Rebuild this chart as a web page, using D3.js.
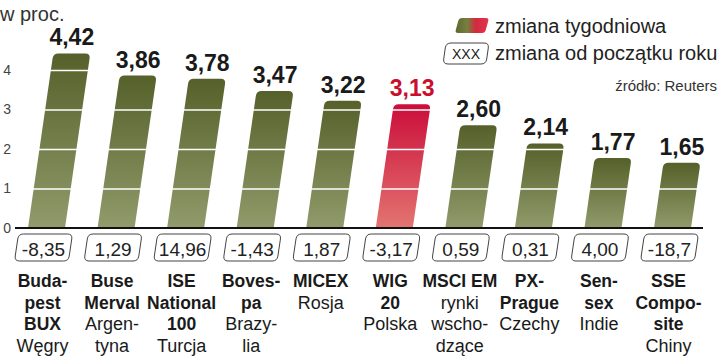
<!DOCTYPE html>
<html><head><meta charset="utf-8">
<script src="https://cdn.jsdelivr.net/npm/d3@7"></script>
<style>body{margin:0;background:#fff}svg{display:block;font-family:"Liberation Sans",Arial,sans-serif}</style>
</head><body><svg id="c" width="720" height="357"></svg>
<script>
const categories = ["Budapest BUX","Buse Merval","ISE National 100","Bovespa","MICEX","WIG 20","MSCI EM","PX-Prague","Sensex","SSE Composite"];
const weekly = [4.42,3.86,3.78,3.47,3.22,3.13,2.60,2.14,1.77,1.65];
const weeklyLabels = ["4,42","3,86","3,78","3,47","3,22","3,13","2,60","2,14","1,77","1,65"];
const ytdLabels = ["-8,35","1,29","14,96","-1,43","1,87","-3,17","0,59","0,31","4,00","-18,7"];
const boldLines = [["Buda-","pest","BUX"],["Buse","Merval"],["ISE","National","100"],["Boves-","pa"],["MICEX"],["WIG","20"],["MSCI EM"],["PX-","Prague"],["Sen-","sex"],["SSE","Compo-","site"]];
const countryLines = [["Węgry"],["Argen-","tyna"],["Turcja"],["Brazy-","lia"],["Rosja"],["Polska"],["rynki","wscho-","dzące"],["Czechy"],["Indie"],["Chiny"]];
const highlight = "WIG 20";
const yTicks = [0,1,2,3,4];
const gridTicks = [1,2,3,4];

const svg = d3.select("#c");
const x = d3.scalePoint().domain(categories).range([43.5, 669.5]);
const y = d3.scaleLinear().domain([0,4]).range([228, 70]);
const slant = 0.145, barW = 37;

const defs = svg.append("defs");
function vgrad(id, top, bot){
  const g = defs.append("linearGradient").attr("id",id).attr("x1",0).attr("y1",0).attr("x2",0).attr("y2",1);
  g.append("stop").attr("offset","0%").attr("stop-color",top);
  g.append("stop").attr("offset","100%").attr("stop-color",bot);
}
vgrad("gGreen","#56602a","#919b6b");
vgrad("gRed","#cb0d3a","#e37571");
const lg = defs.append("linearGradient").attr("id","gLeg").attr("x1",0).attr("y1",0).attr("x2",1).attr("y2",0);
[["0%","#5d6a2e"],["35%","#76803e"],["62%","#d4283f"],["100%","#e0364c"]].forEach(s=>lg.append("stop").attr("offset",s[0]).attr("stop-color",s[1]));

function roundedPoly(pts, radii){
  const n = pts.length; let d = "";
  for(let i=0;i<n;i++){
    const p0=pts[(i-1+n)%n], p1=pts[i], p2=pts[(i+1)%n], r=radii[i];
    const l1=Math.hypot(p0[0]-p1[0],p0[1]-p1[1]), l2=Math.hypot(p2[0]-p1[0],p2[1]-p1[1]);
    const a=[p1[0]+(p0[0]-p1[0])/l1*r, p1[1]+(p0[1]-p1[1])/l1*r];
    const b=[p1[0]+(p2[0]-p1[0])/l2*r, p1[1]+(p2[1]-p1[1])/l2*r];
    d += (i===0?"M":"L")+a[0]+","+a[1]+"Q"+p1[0]+","+p1[1]+" "+b[0]+","+b[1];
  }
  return d+"Z";
}

const y0 = y(0);
const data = categories.map((c,i)=>({c, v:weekly[i], lab:weeklyLabels[i], ytd:ytdLabels[i], b:boldLines[i], n:countryLines[i]}));

// bars
svg.append("g").selectAll("path").data(data).join("path")
  .attr("d", d=>{
    const bx = x(d.c)+3, yt = y(d.v), off = slant*(y0-yt);
    const pts=[[bx-barW/2,y0],[bx-barW/2+off,yt],[bx+barW/2+off,yt],[bx+barW/2,y0]];
    return roundedPoly(pts,[0,5,5,0]);
  })
  .attr("fill", d=> d.c===highlight ? "url(#gRed)" : "url(#gGreen)");

// white gridlines over bars
const grid = svg.append("g").attr("transform","translate(15,0)")
  .call(d3.axisLeft(y).tickValues(gridTicks).tickSize(-690).tickFormat(""));
grid.select(".domain").remove();
grid.selectAll("line").attr("stroke","#fff").attr("stroke-width",1.6);

// baseline
svg.append("line").attr("x1",15).attr("x2",703).attr("y1",y0).attr("y2",y0)
  .attr("stroke","#111").attr("stroke-width",2);

// y labels
const ya = svg.append("g").attr("transform","translate(11,0)")
  .call(d3.axisLeft(y).tickValues(yTicks).tickSize(0).tickPadding(0).tickFormat(d=>d));
ya.select(".domain").remove();
ya.selectAll("text").attr("font-size",14).attr("fill","#444").attr("font-family","Liberation Sans, Arial, sans-serif");

// value labels
svg.append("g").selectAll("text").data(data).join("text")
  .attr("x", d=>{const yt=y(d.v); return x(d.c)+3+slant*(y0-yt);})
  .attr("y", d=>y(d.v)-8)
  .attr("text-anchor","middle").attr("font-size",23).attr("font-weight","bold")
  .attr("fill", d=> d.c===highlight ? "#c8102e" : "#1a1a1a")
  .text(d=>d.lab);

// ytd boxes
const bg = svg.append("g").selectAll("g").data(data).join("g");
bg.append("path").attr("d", d=>{
  const c=x(d.c), t=234, b=261, hw=27, s=2;
  return roundedPoly([[c-hw-s,b],[c-hw+s,t],[c+hw+s,t],[c+hw-s,b]],[5,5,5,5]);
}).attr("fill","none").attr("stroke","#444").attr("stroke-width",1);
bg.append("text").attr("x", d=>x(d.c)).attr("y",256).attr("text-anchor","middle")
  .attr("font-size",19).attr("fill","#222").text(d=>d.ytd);

// category labels
const lab = svg.append("g").selectAll("text").data(data).join("text")
  .attr("text-anchor","middle").attr("fill","#1a1a1a");
lab.each(function(d){
  const t = d3.select(this), cx = x(d.c)-1;
  const lines = d.b.map(s=>({s,bold:true})).concat(d.n.map(s=>({s,bold:false})));
  lines.forEach((l,k)=>{
    t.append("tspan").attr("x",cx).attr("y",287+21.5*k)
      .attr("font-size", l.bold?17.5:18).attr("font-weight", l.bold?"bold":"normal").text(l.s);
  });
});

// header
svg.append("text").attr("x",0).attr("y",21).attr("font-size",20).attr("fill","#333").text("w proc.");

// legend
svg.append("path").attr("d", roundedPoly([[455,33],[459,18],[489,18],[485,33]],[3,3,3,3])).attr("fill","url(#gLeg)");
svg.append("text").attr("x",495).attr("y",33).attr("font-size",20).attr("fill","#222").text("zmiana tygodniowa");
svg.append("path").attr("d", roundedPoly([[443,64],[446,43],[489,43],[486,64]],[5,5,5,5])).attr("fill","none").attr("stroke","#444");
svg.append("text").attr("x",466).attr("y",59).attr("text-anchor","middle").attr("font-size",14).attr("fill","#222").text("XXX");
svg.append("text").attr("x",495).attr("y",60).attr("font-size",20).attr("fill","#222").text("zmiana od początku roku");
svg.append("text").attr("x",717).attr("y",91).attr("text-anchor","end").attr("font-size",15).attr("fill","#333").text("źródło: Reuters");
</script></body></html>
